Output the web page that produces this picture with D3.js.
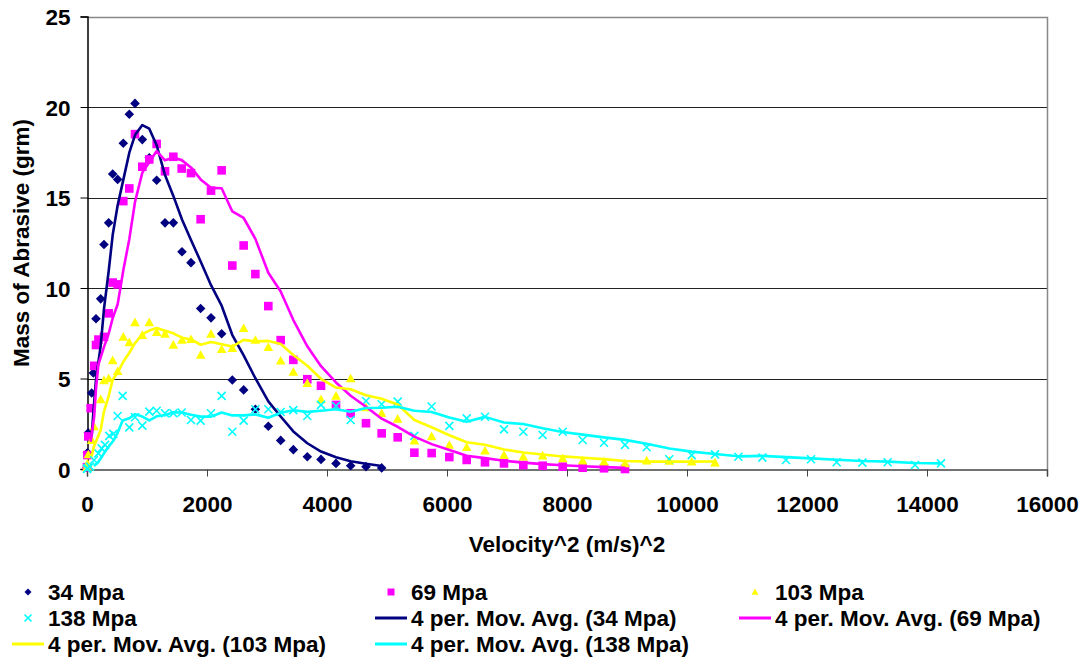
<!DOCTYPE html>
<html>
<head>
<meta charset="utf-8">
<script src="https://cdn.jsdelivr.net/npm/d3@7"></script>
<style>
  body { margin: 0; background: #fff; }
  text { font-family: "Liberation Sans", Arial, sans-serif; font-weight: bold; fill: #000; }
</style>
</head>
<body>
<div id="chart"></div>
<script>
// Velocity^2 (m/s)^2 and mass of abrasive (grm) for each pressure
var velSq34 = [0, 8, 22, 78, 106, 150, 228, 283, 361, 428, 511, 605, 705, 800, 922, 1038, 1161, 1300, 1439, 1583,
    1733, 1894, 2067, 2244, 2422, 2611, 2806, 3022, 3228, 3439, 3672, 3900, 4150, 4394, 4650, 4911];
var mass34 = [0.1, 0.9, 2.0, 4.2, 5.3, 8.3, 9.4, 12.4, 13.6, 16.3, 16.0, 18.0, 19.6, 20.2, 18.2, 17.2, 15.95, 13.6, 13.6, 12.0,
    11.4, 8.87, 8.35, 7.47, 4.92, 4.37, 3.3, 2.36, 1.58, 1.07, 0.68, 0.53, 0.31, 0.18, 0.13, 0.06];

var velSq69 = [0, 6, 22, 61, 120, 150, 190, 283, 361, 428, 511, 605, 705, 800, 922, 1038, 1161, 1300, 1439, 1578, 1733,
    1894, 2067, 2244, 2422, 2611, 2806, 3022, 3228, 3439, 3672, 3900, 4150, 4394, 4650, 4911, 5178, 5456, 5744, 6039, 6328,
    6633, 6950, 7272, 7594, 7928, 8261, 8617, 8967];
var mass69 = [0.1, 0.77, 1.8, 3.36, 5.7, 6.85, 7.15, 7.3, 8.6, 10.3, 10.2, 14.8, 15.5, 18.5, 16.7, 17.1, 17.96, 16.45, 17.25, 16.6, 16.35,
    13.8, 15.38, 16.5, 11.24, 12.35, 10.77, 9.0, 7.12, 6.03, 4.96, 4.6, 3.54, 3.08, 2.53, 1.97, 1.75, 0.9, 0.88, 0.66, 0.5,
    0.37, 0.31, 0.22, 0.18, 0.13, 0.07, 0.04, 0.0];

var velSq103 = [0, 8, 22, 78, 117, 228, 283, 361, 428, 511, 605, 705, 800, 922, 1038, 1161, 1300, 1439, 1583, 1733,
    1894, 2067, 2244, 2422, 2611, 2806, 3022, 3228, 3439, 3672, 3900, 4150, 4394, 4650, 4911, 5178, 5456, 5744, 6039, 6328,
    6633, 6950, 7272, 7594, 7928, 8261, 8617, 8967, 9328, 9705, 10078, 10467];
var mass103 = [0.1, 0.3, 0.8, 1.6, 2.35, 3.85, 4.9, 5.0, 6.0, 5.4, 7.3, 7.0, 8.1, 7.4, 8.1, 7.56, 7.47, 6.86, 7.13, 7.17,
    6.3, 7.47, 6.62, 6.67, 7.78, 7.13, 6.73, 5.98, 5.37, 4.74, 3.85, 4.04, 5.0, 3.4, 3.08, 2.77, 1.57, 1.8, 1.33, 1.2,
    1.01, 0.77, 0.68, 0.74, 0.59, 0.46, 0.4, 0.31, 0.46, 0.45, 0.4, 0.35];

var velSq138 = [0, 8, 50, 117, 189, 245, 300, 372, 439, 511, 594, 705, 800, 922, 1038, 1161, 1300, 1439, 1578, 1733,
    1894, 2067, 2244, 2422, 2611, 2806, 3022, 3228, 3439, 3672, 3900, 4150, 4394, 4650, 4911, 5178, 5456, 5744, 6039, 6328,
    6633, 6950, 7272, 7594, 7928, 8261, 8617, 8967, 9328, 9705, 10078, 10467, 10856, 11256, 11650, 12067, 12494, 12922, 13344, 13800,
    14233];
var mass138 = [0.0, 0.05, 0.13, 0.5, 0.86, 1.14, 1.33, 1.83, 1.94, 2.93, 4.04, 2.3, 2.86, 2.4, 3.17, 3.22, 3.08, 3.08, 3.12, 2.71,
    2.67, 3.08, 4.04, 2.06, 2.67, 3.3, 3.3, 3.15, 3.25, 2.93, 3.54, 3.48, 2.71, 3.76, 3.58, 3.72, 1.83, 3.45, 2.38, 2.8,
    2.89, 2.19, 2.06, 1.88, 2.06, 1.6, 1.45, 1.33, 1.2, 0.54, 0.77, 0.81, 0.68, 0.63, 0.5, 0.54, 0.37, 0.35, 0.37, 0.22,
    0.31];

var seriesNames = ["34 Mpa", "69 Mpa", "103 Mpa", "138 Mpa"];
var xTicks = [0, 2000, 4000, 6000, 8000, 10000, 12000, 14000, 16000];
var yTicks = [0, 5, 10, 15, 20, 25];

var series = [
    { name: seriesNames[0], xs: velSq34, ys: mass34, color: "#000080", marker: "diamond" },
    { name: seriesNames[1], xs: velSq69, ys: mass69, color: "#FF00FF", marker: "square" },
    { name: seriesNames[2], xs: velSq103, ys: mass103, color: "#FFFF00", marker: "triangle" },
    { name: seriesNames[3], xs: velSq138, ys: mass138, color: "#00FFFF", marker: "cross" }
];

var W = 1086, H = 664, FONT = "22.5px";
var svg = d3.select("#chart").append("svg")
    .attr("width", W)
    .attr("height", H);

var x = d3.scaleLinear().domain([0, 16000]).range([87, 1047]);
var y = d3.scaleLinear().domain([0, 25]).range([469, 16.5]);

// gridlines
svg.append("g").selectAll("line")
    .data(yTicks.slice(1, -1))
    .enter().append("line")
    .attr("x1", 87).attr("x2", 1047)
    .attr("y1", function(d) { return Math.round(y(d)) + 0.5; })
    .attr("y2", function(d) { return Math.round(y(d)) + 0.5; })
    .attr("stroke", "#222").attr("stroke-width", 1);

// plot border (top / right)
svg.append("path")
    .attr("d", "M87," + (Math.round(y(25)) + 0.5) + "H" + (x(16000) + 0.5) + "V469")
    .attr("fill", "none").attr("stroke", "#888").attr("stroke-width", 1.5);

// axes
var xAxis = svg.append("g")
    .attr("transform", "translate(0," + 469.5 + ")")
    .call(d3.axisBottom(x).tickValues(xTicks).tickSize(7).tickPadding(20).tickFormat(d3.format("d")));
xAxis.select(".domain").attr("stroke", "#444").attr("stroke-width", 1.5);
xAxis.selectAll(".tick line").attr("stroke", "#444");
xAxis.selectAll("text").style("font-size", FONT);

var yAxis = svg.append("g")
    .attr("transform", "translate(" + 87.5 + ",0)")
    .call(d3.axisLeft(y).tickValues(yTicks).tickSize(7).tickPadding(10));
yAxis.select(".domain").attr("stroke", "#000").attr("stroke-width", 1.5);
yAxis.selectAll(".tick line").attr("stroke", "#000");
yAxis.selectAll("text").style("font-size", FONT).attr("dy", "0.36em");

// axis titles
svg.append("text")
    .attr("x", 567).attr("y", 552)
    .attr("text-anchor", "middle")
    .style("font-size", FONT)
    .text("Velocity^2 (m/s)^2");

svg.append("text")
    .attr("transform", "translate(29," + 243 + ") rotate(-90)")
    .attr("text-anchor", "middle")
    .style("font-size", FONT)
    .text("Mass of Abrasive (grm)");

// marker shapes
function markerPath(type, s) {
    if (type === "diamond") return "M0," + (-s) + "L" + s + ",0L0," + s + "L" + (-s) + ",0Z";
    if (type === "square") return "M" + (-s) + "," + (-s) + "h" + (s * 2) + "v" + (s * 2) + "h" + (-s * 2) + "Z";
    if (type === "triangle") return "M0," + (-s) + "L" + s + "," + (s * 0.8) + "L" + (-s) + "," + (s * 0.8) + "Z";
    return "M" + (-s) + "," + (-s) + "L" + s + "," + s + "M" + (-s) + "," + s + "L" + s + "," + (-s);
}

function drawMarker(sel, s, size) {
    sel.attr("d", markerPath(s.marker, size))
        .attr("fill", s.marker === "cross" ? "none" : s.color)
        .attr("stroke", s.marker === "cross" ? s.color : "none")
        .attr("stroke-width", 1.6);
}

series.forEach(function(s) {
    var pts = s.xs.map(function(v, i) { return [v, s.ys[i]]; });
    var size = { diamond: 4.8, square: 4.3, triangle: 4.8, cross: 4 }[s.marker];
    svg.append("g").selectAll("path")
        .data(pts)
        .enter().append("path")
        .attr("transform", function(d) { return "translate(" + x(d[0]) + "," + y(d[1]) + ")"; })
        .call(drawMarker, s, size);
});

// 4 period moving average trendlines
function movAvg(xs, ys, n) {
    var out = [];
    for (var i = n - 1; i < xs.length; i++) {
        out.push([xs[i], d3.mean(ys.slice(i - n + 1, i + 1))]);
    }
    return out;
}

var line = d3.line()
    .x(function(d) { return x(d[0]); })
    .y(function(d) { return y(d[1]); });

series.forEach(function(s) {
    svg.append("path")
        .datum(movAvg(s.xs, s.ys, 4))
        .attr("d", line)
        .attr("fill", "none")
        .attr("stroke", s.color)
        .attr("stroke-width", 2.6)
        .attr("stroke-linejoin", "round");
});

// legend
var legendItems = [
    { label: seriesNames[0], s: series[0], kind: "marker" },
    { label: seriesNames[1], s: series[1], kind: "marker" },
    { label: seriesNames[2], s: series[2], kind: "marker" },
    { label: seriesNames[3], s: series[3], kind: "marker" },
    { label: "4 per. Mov. Avg. (" + seriesNames[0] + ")", s: series[0], kind: "line" },
    { label: "4 per. Mov. Avg. (" + seriesNames[1] + ")", s: series[1], kind: "line" },
    { label: "4 per. Mov. Avg. (" + seriesNames[2] + ")", s: series[2], kind: "line" },
    { label: "4 per. Mov. Avg. (" + seriesNames[3] + ")", s: series[3], kind: "line" }
];
var colX = [12, 375, 739];
var rowY = [592, 618, 644];

var legend = svg.append("g");
legendItems.forEach(function(item, i) {
    var gx = colX[i % 3], gy = rowY[Math.floor(i / 3)];
    var g = legend.append("g").attr("transform", "translate(" + gx + "," + gy + ")");
    if (item.kind === "marker") {
        g.append("path")
            .attr("transform", "translate(16,0)")
            .call(drawMarker, item.s, 3.5);
    } else {
        g.append("line")
            .attr("x1", 0).attr("x2", 32)
            .attr("y1", 0).attr("y2", 0)
            .attr("stroke", item.s.color).attr("stroke-width", 3);
    }
    g.append("text")
        .attr("x", 36).attr("y", 8)
        .style("font-size", FONT)
        .text(item.label);
});
</script>
</body>
</html>
